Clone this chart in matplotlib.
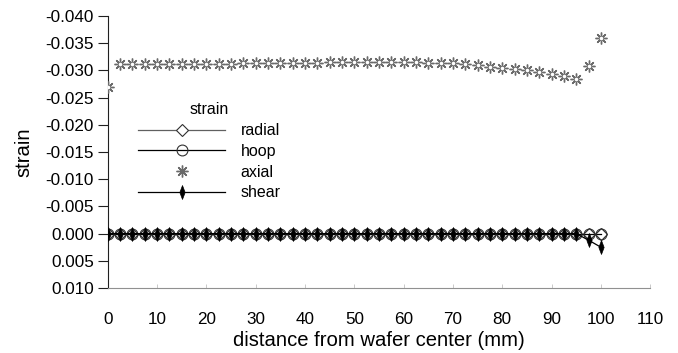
import matplotlib
matplotlib.use("Agg")
import matplotlib.pyplot as plt
from matplotlib.path import Path
import numpy as np

plt.rcParams["font.family"] = ["Liberation Sans", "DejaVu Sans"]

# distance from wafer center (mm), 2.5 mm steps
distance = [0, 2.5, 5, 7.5, 10, 12.5, 15, 17.5, 20, 22.5, 25, 27.5, 30, 32.5,
            35, 37.5, 40, 42.5, 45, 47.5, 50, 52.5, 55, 57.5, 60, 62.5, 65,
            67.5, 70, 72.5, 75, 77.5, 80, 82.5, 85, 87.5, 90, 92.5, 95, 97.5, 100]

radial = [0.0] * 41
hoop = [0.0] * 41
axial = [-0.0270, -0.0311, -0.0311, -0.0311, -0.0311, -0.0311, -0.0311, -0.0312,
         -0.0312, -0.0312, -0.0312, -0.0313, -0.0313, -0.0313, -0.0313, -0.0314,
         -0.0314, -0.0314, -0.0315, -0.0315, -0.0316, -0.0316, -0.0316, -0.0316,
         -0.0315, -0.0315, -0.0314, -0.0314, -0.0313, -0.0311, -0.0309, -0.0307,
         -0.0305, -0.0302, -0.0300, -0.0296, -0.0293, -0.0289, -0.0284, -0.0308,
         -0.0359]
shear = [0.0] * 39 + [0.0012, 0.0025]

# thin filled diamond like the original spreadsheet marker
THIN_DIAMOND = Path([(0, 1), (0.38, 0), (0, -1), (-0.38, 0), (0, 1)],
                    [Path.MOVETO, Path.LINETO, Path.LINETO, Path.LINETO,
                     Path.CLOSEPOLY])


def fmt_strain(v, pos):
    s = f"{v:.3f}"
    return "0.000" if s == "-0.000" else s


fig = plt.figure(figsize=(6.78, 3.53), dpi=100)
ax = fig.add_axes([0.159, 0.184, 0.8, 0.771])

ax.plot(distance, radial, color="#606060", lw=0.9, marker="D", ms=6.5,
        mfc="white", mec="#303030", mew=0.8, label="radial", zorder=3)
ax.plot(distance, hoop, color="black", lw=0.9, marker="o", ms=7.8,
        mfc="none", mec="#303030", mew=0.8, label="hoop", zorder=3)
ax.plot(distance, axial, ls="none", marker=(8, 2, 0), ms=8.5,
        mfc="none", mec="#6a6a6a", mew=1.0, label="axial", zorder=3)
ax.plot(distance, axial, ls="none", marker="o", ms=2.6,
        mfc="white", mec="none", zorder=3.5)
ax.plot(distance, shear, color="black", lw=0.9, marker=THIN_DIAMOND, ms=10,
        mfc="black", mec="black", mew=0.5, label="shear", zorder=4)

ax.set_xlim(0, 110)
ax.set_ylim(0.010, -0.040)
ax.set_xticks(np.arange(0, 111, 10))
ax.set_yticks(np.arange(-0.040, 0.0101, 0.005))
ax.yaxis.set_major_formatter(matplotlib.ticker.FuncFormatter(fmt_strain))

ax.spines[["top", "right"]].set_visible(False)
ax.spines["left"].set_color("#202020")
ax.spines["bottom"].set_color("#909090")
ax.tick_params(axis="y", direction="out", length=7, width=0.8, labelsize=12.3,
               pad=3, color="#202020")
ax.tick_params(axis="x", direction="in", length=3, width=0.6, labelsize=12.3,
               pad=17, color="#c0c0c0")

ax.set_xlabel("distance from wafer center (mm)", fontsize=14.6, labelpad=3)
ax.set_ylabel("strain", fontsize=14.6, labelpad=9)

leg = ax.legend(title="strain", loc="upper left", bbox_to_anchor=(0.03, 0.735),
                frameon=False, fontsize=11.5, title_fontsize=11.5,
                handlelength=5.4, labelspacing=0.36, handletextpad=1.0)

fig.savefig("out.png", dpi=100)
